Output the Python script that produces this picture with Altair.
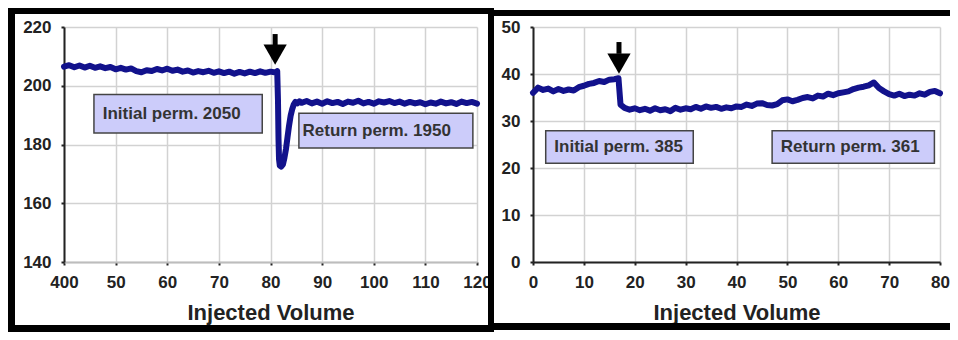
import altair as alt
import pandas as pd

# ---------------- data ----------------
# Left panel: permeability trace (Injected Volume 40..120)
left_x = [40, 41, 42, 43, 44, 45, 46, 47, 48, 49, 50, 51, 52, 53, 54, 55, 56, 57, 58, 59,
          60, 61, 62, 63, 64, 65, 66, 67, 68, 69, 70, 71, 72, 73, 74, 75, 76, 77, 78, 79,
          80, 81, 81.3, 81.45, 81.55, 81.65, 81.8, 82.1, 82.4, 82.7, 83.0, 83.3, 83.6,
          83.9, 84.2, 84.5, 84.8, 85.2, 85.6,
          86, 87, 88, 89, 90, 91, 92, 93, 94, 95, 96, 97, 98, 99, 100, 101, 102, 103,
          104, 105, 106, 107, 108, 109, 110, 111, 112, 113, 114, 115, 116, 117, 118, 119, 120]
left_y = [206.5, 207.0, 206.3, 206.9, 206.2, 206.8, 206.1, 206.6, 206.0, 206.4,
          205.6, 206.1, 205.5, 205.9, 205.0, 204.6, 205.3, 205.0, 205.7, 205.2,
          205.8, 205.1, 205.5, 204.8, 205.2, 204.5, 205.0, 204.6, 205.1, 204.4,
          204.9, 204.3, 204.8, 204.1, 204.7, 204.2, 204.8, 204.3, 204.9, 204.4,
          204.8, 204.5, 205.0, 195.0, 182.0, 175.0, 172.8, 172.5, 173.2, 175.5, 178.5,
          182.5, 186.5, 189.8, 192.0, 193.6, 194.5, 194.0, 194.7,
          194.2, 194.8, 194.0, 194.6, 193.9, 194.7, 194.1, 194.5, 193.8, 194.6,
          194.2, 194.9, 194.0, 194.5, 193.9, 194.7, 194.3, 194.8, 194.1, 194.6,
          193.9, 194.5, 194.0, 194.4, 193.7, 194.3, 193.9, 194.6, 194.0, 194.4,
          193.8, 194.6, 194.1, 194.5, 193.9]

# Right panel: permeability trace (Injected Volume 0..80)
right_x = [0, 1, 2, 3, 4, 5, 6, 7, 8, 9, 10, 11, 12, 13, 14, 15, 16, 16.8, 17.2,
           18, 19, 20, 21, 22, 23, 24, 25, 26, 27, 28, 29, 30, 31, 32, 33, 34, 35, 36,
           37, 38, 39, 40, 41, 42, 43, 44, 45, 46, 47, 48, 49, 50, 51, 52, 53, 54, 55,
           56, 57, 58, 59, 60, 61, 62, 63, 64, 65, 66, 67, 68, 69, 70, 71, 72, 73, 74,
           75, 76, 77, 78, 79, 80]
right_y = [36.0, 37.1, 36.6, 36.9, 36.3, 36.8, 36.4, 36.7, 36.5, 37.2, 37.5, 37.9,
           38.1, 38.5, 38.3, 38.8, 38.9, 39.1, 33.5,
           32.8, 32.4, 32.7, 32.3, 32.6, 32.2, 32.7, 32.3, 32.5, 32.1, 32.8, 32.4,
           32.7, 32.5, 33.0, 32.6, 33.1, 32.8, 33.0, 32.6, 32.9, 32.7, 33.1, 33.0,
           33.5, 33.2, 33.7, 33.8, 33.4, 33.3, 33.6, 34.4, 34.6, 34.2, 34.5, 34.9,
           35.1, 34.8, 35.4, 35.2, 35.8, 35.5, 35.9, 36.1, 36.3, 36.8, 37.1, 37.3,
           37.6, 38.2, 37.0, 36.3, 35.7, 35.4, 35.8, 35.3, 35.6, 35.4, 35.9, 35.6,
           36.2, 36.4, 35.9]

left_xticks = [40, 50, 60, 70, 80, 90, 100, 110, 120]
left_yticks = [140, 160, 180, 200, 220]
right_xticks = [0, 10, 20, 30, 40, 50, 60, 70, 80]
right_yticks = [0, 10, 20, 30, 40, 50]

# annotation boxes (data units)
left_labels = ["Initial perm. 2050", "Return perm. 1950"]
left_box_x1 = [45.8, 85.5]
left_box_x2 = [78.4, 119.2]
left_box_y1 = [183.9, 178.8]
left_box_y2 = [197.0, 190.6]
left_text_x = [47.5, 86.2]
left_text_y = [190.5, 184.7]

right_labels = ["Initial perm. 385", "Return perm. 361"]
right_box_x1 = [2.5, 47.0]
right_box_x2 = [31.5, 78.9]
right_box_y1 = [21.0, 21.0]
right_box_y2 = [27.9, 27.9]
right_text_x = [4.2, 48.7]
right_text_y = [24.5, 24.5]

# arrows marking the event
left_arrow_x = [80.9]
left_arrow_top = [217.6]
left_arrow_mid = [212.5]
left_arrow_head = [210.6]
right_arrow_x = [16.9]
right_arrow_top = [46.8]
right_arrow_mid = [44.3]
right_arrow_head = [42.2]

NAVY = "#12128c"
LAV = "#ccccfa"
FONT = "Liberation Sans"
TXT = "#222222"


def panel(xs, ys, xticks, yticks, xdom, ydom, labels, bx1, bx2, by1, by2, tx, ty,
          ax, atop, amid, ahead, W, H, frame, xdomain_color, label_expr=None):
    xaxis_kwargs = dict(values=xticks, title="Injected Volume", grid=True,
                        gridColor="#d2d2d2", gridWidth=1.5,
                        domainColor=xdomain_color, domainWidth=2,
                        tickColor="#222222", tickSize=3, tickWidth=2,
                        labelFont=FONT, labelFontSize=17, labelFontWeight="bold",
                        labelColor=TXT, labelPadding=9, labelFlush=False,
                        titleFont=FONT, titleFontSize=22, titleFontWeight="bold",
                        titleColor=TXT, titlePadding=12)
    if label_expr:
        xaxis_kwargs["labelExpr"] = label_expr
    xaxis = alt.Axis(**xaxis_kwargs)
    yaxis = alt.Axis(values=yticks, title=None, grid=True,
                     gridColor="#d2d2d2", gridWidth=1.5,
                     domainColor="#222222", domainWidth=2,
                     tickColor="#222222", tickSize=3, tickWidth=2,
                     labelFont=FONT, labelFontSize=17, labelFontWeight="bold",
                     labelColor=TXT, labelPadding=10, labelFlush=False)
    xsc = alt.Scale(domain=xdom, nice=False, zero=False)
    ysc = alt.Scale(domain=ydom, nice=False, zero=False)

    line_df = pd.DataFrame({"x": xs, "y": ys})
    box_df = pd.DataFrame({"label": labels, "x": bx1, "x2": bx2, "y": by1, "y2": by2,
                           "tx": tx, "ty": ty})
    arr_df = pd.DataFrame({"x": ax, "y": atop, "y2": amid, "yh": ahead})

    X = lambda f: alt.X(f, type="quantitative", scale=xsc, axis=xaxis)
    Y = lambda f: alt.Y(f, type="quantitative", scale=ysc, axis=yaxis)

    line = alt.Chart(line_df).mark_line(color=NAVY, strokeWidth=6, strokeJoin="round",
                                        strokeCap="round").encode(x=X("x"), y=Y("y"))
    boxes = alt.Chart(box_df).mark_rect(fill=LAV, stroke="#444444", strokeWidth=1.5).encode(
        x=X("x"), x2="x2", y=Y("y"), y2="y2")
    texts = alt.Chart(box_df).mark_text(align="left", baseline="middle", font=FONT,
                                        fontSize=17, fontWeight="bold", color="#333333").encode(
        x=X("tx"), y=Y("ty"), text="label:N")
    shaft = alt.Chart(arr_df).mark_rule(color="black", strokeWidth=5).encode(
        x=X("x"), y=Y("y"), y2="y2")
    head = alt.Chart(arr_df).mark_point(shape="triangle-down", size=540, filled=True,
                                        color="black", opacity=1).encode(x=X("x"), y=Y("yh"))

    one = pd.DataFrame({"k": [0]})
    frame_layers = []
    for (x1, x2, y1, y2, col) in frame:
        frame_layers.append(
            alt.Chart(one).mark_rect(color=col).encode(
                x=alt.value(x1), x2=alt.value(x2), y=alt.value(y1), y2=alt.value(y2)))

    return alt.layer(*frame_layers, line, boxes, texts, shaft, head).properties(
        width=W, height=H)


LW, LH = 413, 235
left_frame = [
    (-56, -49, -19, 305, "black"),   # left bar
    (-56, 430, -19, -13, "black"),   # top bar
    (-56, 430, 298, 305, "black"),   # bottom bar
    (424, 430, -19, 305, "black"),   # divider
]
RW, RH = 407, 235
right_frame = [
    (-39, 417, -19, -17, "white"),
    (-39, 417, -17, -11, "black"),
    (-39, 417, 296, 303, "black"),
]

left = panel(left_x, left_y, left_xticks, left_yticks, [40, 120], [140, 220],
             left_labels, left_box_x1, left_box_x2, left_box_y1, left_box_y2,
             left_text_x, left_text_y, left_arrow_x, left_arrow_top, left_arrow_mid,
             left_arrow_head, LW, LH, left_frame, "#bdbdbd",
             label_expr="datum.value == 40 ? '400' : datum.label")
right = panel(right_x, right_y, right_xticks, right_yticks, [0, 80], [0, 50],
              right_labels, right_box_x1, right_box_x2, right_box_y1, right_box_y2,
              right_text_x, right_text_y, right_arrow_x, right_arrow_top, right_arrow_mid,
              right_arrow_head, RW, RH, right_frame, "#222222")

chart = alt.hconcat(left, right, spacing=0).properties(
    padding=0, background="white"
).configure_view(stroke=None)

chart.save("out.html", embed_options={"renderer": "svg", "actions": False})
